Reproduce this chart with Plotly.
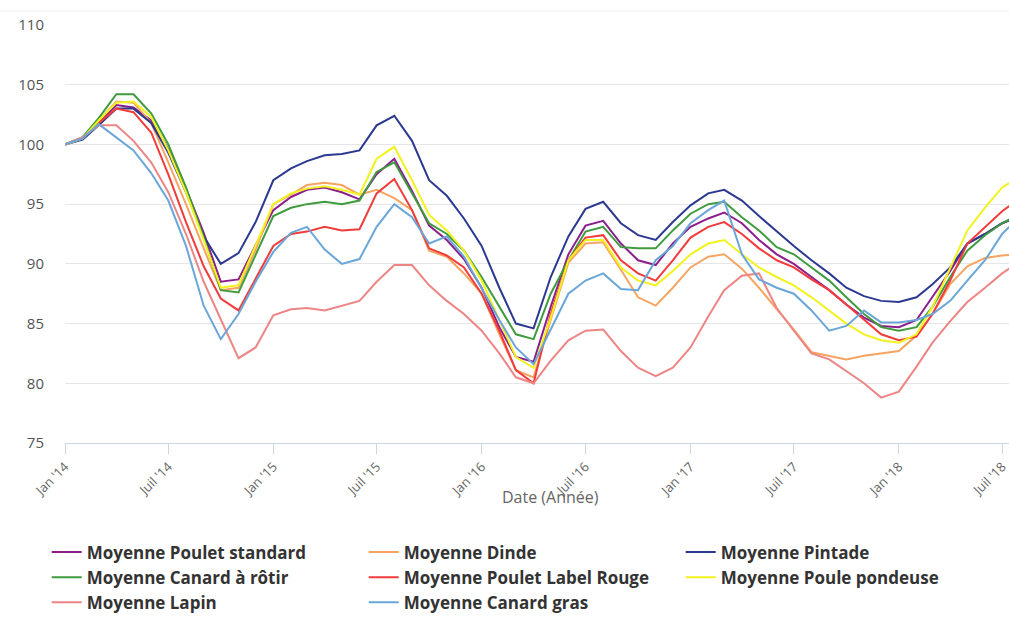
import pandas as pd
import plotly.graph_objects as go

dates = pd.date_range("2014-01-01", periods=56, freq="MS")

tick_dates = ["2014-01-01", "2014-07-01", "2015-01-01", "2015-07-01", "2016-01-01",
              "2016-07-01", "2017-01-01", "2017-07-01", "2018-01-01", "2018-07-01"]
tick_labels = ["Jan '14", "Juil '14", "Jan '15", "Juil '15", "Jan '16",
               "Juil '16", "Jan '17", "Juil '17", "Jan '18", "Juil '18"]

poulet_standard = [100, 100.5, 101.8, 103.3, 103.1, 102.0, 99.6, 96.3, 92.6, 88.5, 88.7, 91.5,
                   94.5, 95.6, 96.2, 96.4, 96.0, 95.4, 97.5, 98.8, 96.1, 93.2, 92.0, 90.4,
                   88.0, 84.7, 82.2, 81.8, 86.4, 90.8, 93.2, 93.6, 91.7, 90.3, 89.9, 91.7,
                   93.1, 93.8, 94.3, 93.4, 92.0, 90.8, 90.0, 88.9, 87.8, 86.6, 85.5, 84.8,
                   84.7, 85.3, 87.2, 89.4, 91.7, 92.5, 93.4, 94.0]
dinde = [100, 100.5, 102.0, 103.6, 103.5, 101.8, 98.5, 95.0, 91.3, 87.8, 88.0, 91.2,
         95.0, 95.8, 96.6, 96.8, 96.6, 95.8, 96.2, 95.5, 94.5, 91.1, 90.6, 89.2,
         87.5, 84.1, 81.1, 80.5, 85.3, 90.1, 91.7, 91.8, 89.5, 87.2, 86.5, 88.0,
         89.7, 90.6, 90.8, 89.6, 88.0, 86.2, 84.5, 82.6, 82.3, 82.0, 82.3, 82.5,
         82.7, 84.0, 85.8, 88.3, 89.8, 90.5, 90.7, 90.8]
pintade = [100, 100.4, 101.6, 103.0, 103.0, 101.8, 99.3, 96.0, 92.3, 90.0, 90.9, 93.5,
           97.0, 98.0, 98.6, 99.1, 99.2, 99.5, 101.6, 102.4, 100.3, 97.0, 95.7, 93.8,
           91.5, 88.0, 85.0, 84.6, 88.9, 92.3, 94.6, 95.2, 93.4, 92.4, 92.0, 93.5,
           94.9, 95.9, 96.2, 95.3, 94.0, 92.7, 91.5, 90.3, 89.2, 88.0, 87.3, 86.9,
           86.8, 87.2, 88.3, 89.7, 91.7, 92.5, 93.4, 94.0]
canard_rotir = [100, 100.6, 102.2, 104.2, 104.2, 102.6, 100.0, 96.4, 92.2, 87.8, 87.6, 90.8,
                94.0, 94.7, 95.0, 95.2, 95.0, 95.3, 97.7, 98.5, 95.9, 93.4, 92.5, 91.1,
                88.9, 86.4, 84.1, 83.7, 87.5, 90.3, 92.7, 93.1, 91.4, 91.3, 91.3, 92.8,
                94.2, 95.0, 95.2, 93.9, 92.8, 91.4, 90.8, 89.7, 88.6, 87.2, 85.8, 84.7,
                84.4, 84.7, 86.4, 88.9, 91.1, 92.4, 93.4, 94.2]
label_rouge = [100, 100.5, 101.8, 103.0, 102.7, 101.0, 97.5, 93.5, 89.8, 87.1, 86.1, 88.7,
               91.5, 92.5, 92.7, 93.1, 92.8, 92.9, 95.9, 97.1, 94.5, 91.3, 90.7, 89.7,
               87.5, 84.4, 81.1, 80.0, 85.8, 90.3, 92.2, 92.4, 90.3, 89.2, 88.6, 90.3,
               92.2, 93.1, 93.5, 92.5, 91.3, 90.3, 89.7, 88.7, 87.8, 86.6, 85.3, 84.1,
               83.6, 83.9, 85.8, 88.6, 91.7, 93.1, 94.4, 95.5]
poule_pondeuse = [100, 100.5, 102.0, 103.5, 103.6, 102.3, 99.5, 96.0, 92.0, 88.0, 88.2, 91.5,
                  95.0, 95.9, 96.3, 96.5, 96.2, 95.8, 98.8, 99.8, 97.0, 94.1, 92.8, 91.1,
                  88.6, 85.3, 82.2, 81.3, 85.5, 90.3, 92.0, 92.0, 89.7, 88.6, 88.2, 89.4,
                  90.8, 91.7, 92.0, 90.8, 89.7, 88.9, 88.2, 87.2, 86.1, 85.0, 84.1, 83.6,
                  83.4, 84.1, 86.4, 89.7, 92.8, 94.7, 96.4, 97.3]
lapin = [100, 100.6, 101.6, 101.6, 100.3, 98.5, 96.0, 92.5, 88.5, 85.3, 82.1, 83.0,
         85.7, 86.2, 86.3, 86.1, 86.5, 86.9, 88.5, 89.9, 89.9, 88.2, 86.9, 85.8,
         84.4, 82.5, 80.5, 80.0, 81.9, 83.6, 84.4, 84.5, 82.7, 81.3, 80.6, 81.3,
         83.0, 85.6, 87.8, 89.0, 89.2, 86.3, 84.4, 82.5, 82.0, 81.0, 80.0, 78.8,
         79.3, 81.4, 83.4, 85.2, 86.8, 88.0, 89.2, 90.2]
canard_gras = [100, 100.5, 101.7, 100.6, 99.5, 97.6, 95.3, 91.5, 86.5, 83.7, 85.8, 88.5,
               91.0, 92.6, 93.1, 91.2, 90.0, 90.4, 93.1, 95.0, 93.9, 91.7, 92.3, 90.6,
               88.0, 85.3, 83.0, 81.6, 84.5, 87.5, 88.6, 89.2, 87.9, 87.8, 90.3, 91.5,
               93.4, 94.5, 95.3, 90.8, 88.7, 88.0, 87.5, 86.1, 84.4, 84.8, 86.1, 85.1,
               85.1, 85.3, 85.8, 86.9, 88.6, 90.3, 92.5, 94.0]

series_names = ["Moyenne Poulet standard", "Moyenne Dinde", "Moyenne Pintade",
                "Moyenne Canard à rôtir", "Moyenne Poulet Label Rouge", "Moyenne Poule pondeuse",
                "Moyenne Lapin", "Moyenne Canard gras"]
series_values = [poulet_standard, dinde, pintade, canard_rotir, label_rouge,
                 poule_pondeuse, lapin, canard_gras]
series_colors = ["#8B1F8C", "#F5A462", "#2C3990", "#3E9B3E", "#F23B3B",
                 "#F2F21E", "#EE8585", "#6AA6D8"]

fig = go.Figure()
for name, vals, col in zip(series_names, series_values, series_colors):
    fig.add_trace(go.Scatter(x=dates, y=vals, name=name, mode="lines",
                             line=dict(color=col, width=2)))

fig.update_layout(
    width=1009, height=644,
    margin=dict(l=65, r=0, t=25, b=201),
    paper_bgcolor="white", plot_bgcolor="white",
    font=dict(family="Open Sans, DejaVu Sans, sans-serif", color="#666666"),
    showlegend=True,
    legend=dict(orientation="h", x=-0.0194, xanchor="left", y=-0.219, yanchor="top",
                entrywidth=272, entrywidthmode="pixels",
                font=dict(size=17, color="#333333", weight="bold"),
                tracegroupgap=0),
    shapes=[dict(type="line", xref="paper", yref="paper", x0=-0.07, x1=1.0,
                 y0=1.0335, y1=1.0335, line=dict(color="#eeeeee", width=1))],
    annotations=[dict(text="Date (Année)", xref="paper", yref="paper", x=0.514, y=-0.129,
                      xanchor="center", yanchor="middle", showarrow=False,
                      font=dict(size=16, color="#666666"))],
)

fig.update_xaxes(
    range=["2014-01-01", "2018-07-13"],
    tickvals=tick_dates, ticktext=tick_labels, tickangle=-45,
    tickfont=dict(size=13, color="#666666"), ticklabeloverflow="allow",
    ticks="outside", ticklen=10, tickcolor="#ccd6eb",
    showgrid=False, showline=True, linecolor="#ccd6eb", linewidth=1,
    zeroline=False,
)
fig.update_yaxes(
    range=[75, 110], tickvals=[75, 80, 85, 90, 95, 100, 105, 110],
    tickfont=dict(size=15, color="#555555"),
    showgrid=True, gridcolor="#e6e6e6", gridwidth=1, zeroline=False,
    ticks="", ticklabelstandoff=20, showline=False,
)

fig.write_html(
    "out.html",
    config={"displayModeBar": False},
    post_script="document.body.style.margin='0';document.documentElement.style.overflow='hidden';document.body.style.overflow='hidden';",
)
